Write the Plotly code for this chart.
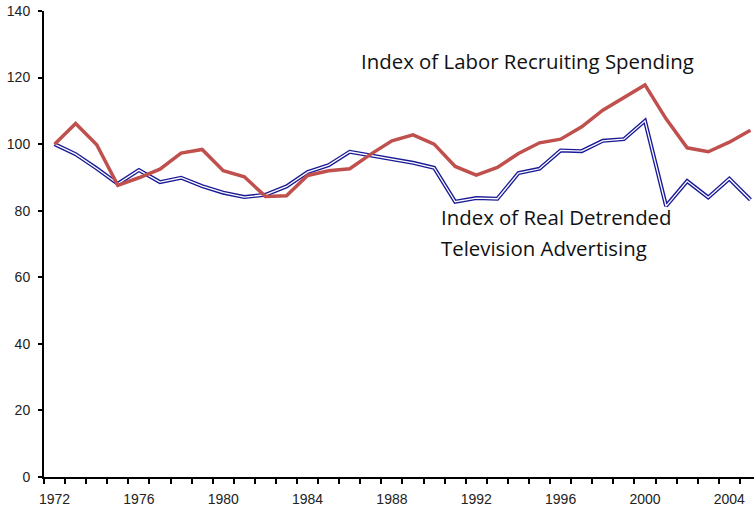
import plotly.graph_objects as go

years = list(range(1972, 2006))
labor_recruiting = [100.0, 106.2, 99.8, 87.6, 89.9, 92.5, 97.3, 98.4, 92.0, 90.2, 84.3, 84.5,
                    90.6, 92.0, 92.6, 97.0, 101.0, 102.8, 100.0, 93.3, 90.7, 93.0, 97.2, 100.4,
                    101.5, 105.2, 110.2, 113.9, 117.8, 107.6, 98.9, 97.7, 100.6, 104.2]
tv_advertising = [100.0, 97.0, 92.7, 88.1, 92.2, 88.6, 89.9, 87.4, 85.4, 84.1, 84.8, 87.3,
                  91.6, 93.7, 97.7, 96.6, 95.6, 94.4, 92.9, 82.7, 83.8, 83.6, 91.3, 92.6,
                  98.1, 97.9, 101.0, 101.5, 107.0, 81.4, 88.9, 84.0, 89.6, 83.3]
year_labels = [1972, 1976, 1980, 1984, 1988, 1992, 1996, 2000, 2004]
y_ticks = [0, 20, 40, 60, 80, 100, 120, 140]

fig = go.Figure()
# Double line for TV advertising: dark blue outline with white core
fig.add_trace(go.Scatter(x=years, y=tv_advertising, mode="lines",
                         line=dict(color="#1a1a96", width=4), hoverinfo="skip", showlegend=False))
fig.add_trace(go.Scatter(x=years, y=tv_advertising, mode="lines",
                         line=dict(color="white", width=1.3), hoverinfo="skip", showlegend=False))
fig.add_trace(go.Scatter(x=years, y=labor_recruiting, mode="lines",
                         line=dict(color="#C0504D", width=3.5), showlegend=False))

ann_font = dict(family="Open Sans", size=20.4, color="#111111")
fig.add_annotation(x=1986.45, y=125.1, xref="x", yref="y", text="Index of Labor Recruiting Spending",
                   showarrow=False, xanchor="left", yanchor="middle", font=ann_font)
fig.add_annotation(x=1990.25, y=78.1, xref="x", yref="y", text="Index of Real Detrended",
                   showarrow=False, xanchor="left", yanchor="middle", font=ann_font)
fig.add_annotation(x=1990.25, y=68.8, xref="x", yref="y", text="Television Advertising",
                   showarrow=False, xanchor="left", yanchor="middle", font=ann_font)

fig.update_layout(
    width=754, height=508,
    margin=dict(l=44, r=0, t=11, b=31),
    paper_bgcolor="white", plot_bgcolor="white",
    font=dict(family="Arial", size=14, color="#222222"),
)
fig.update_xaxes(
    range=[1971.5, 2005.17], automargin=False,
    tickmode="array", tickvals=year_labels, ticktext=[str(v) for v in year_labels],
    ticks="", ticklabelstandoff=8, showgrid=False, zeroline=False,
    showline=True, linecolor="black", linewidth=2,
    minor=dict(tickmode="array", tickvals=[y - 0.5 for y in years] + [2005.5],
               ticks="outside", ticklen=5, tickwidth=1.5, tickcolor="black", showgrid=False),
)
fig.update_yaxes(
    range=[0, 140], tickmode="array", tickvals=y_ticks, automargin=False,
    ticks="outside", ticklen=4, tickwidth=1.5, tickcolor="black", ticklabelstandoff=5,
    showgrid=False, zeroline=False, showline=True, linecolor="black", linewidth=2,
)
fig.write_html("out.html", config={"displayModeBar": False},
               post_script="document.body.style.margin='0';document.body.style.overflow='hidden';")
